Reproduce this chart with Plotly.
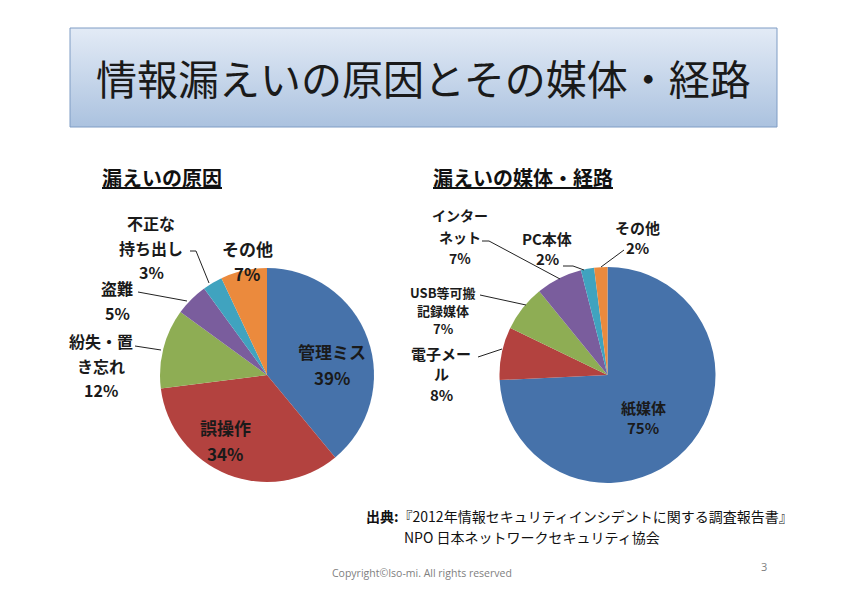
import plotly.graph_objects as go

# ---------------- data ----------------
cause_labels = ['管理ミス', '誤操作', '紛失・置き忘れ', '盗難', '不正な持ち出し', 'その他']
cause_display = ['管理ミス', '誤操作', '紛失・置<br>き忘れ', '盗難', '不正な<br>持ち出し', 'その他']
cause_values = [39, 34, 12, 5, 3, 7]

media_labels = ['紙媒体', '電子メール', 'USB等可搬記録媒体', 'インターネット', 'PC本体', 'その他']
media_display = ['紙媒体', '電子メー<br>ル', 'USB等可搬<br>記録媒体', 'インター<br>ネット', 'PC本体', 'その他']
media_values = [75, 8, 7, 7, 2, 2]

title_text = '情報漏えいの原因とその媒体・経路'
sub_titles = ['漏えいの原因', '漏えいの媒体・経路']
source_lines = ['<b>出典:</b>『2012年情報セキュリティインシデントに関する調査報告書』',
                'NPO 日本ネットワークセキュリティ協会']
copyright_text = 'Copyright©Iso-mi. All rights reserved'
page_no = '3'

# ---------------- styles / layout ----------------
PW, PH = 847, 600          # page size
OFF = 8                    # default body margin of the page
W, H = PW - OFF, PH - OFF  # figure size
FONT = 'Noto Sans CJK JP'
slice_colors = ['#4672AA', '#B3423F', '#8EAD54', '#7A5D9D', '#40A3BF', '#EB8A3D']

# label placement: (x center, first line y, line gap, font size) in page pixels
cause_pos = [(332, 351, 26, 17), (225, 427, 26, 17), (101, 341, 24.5, 16),
             (117, 288, 25, 16), (151, 223, 24.5, 16), (247, 248, 25, 17)]
media_pos = [(643, 407, 20, 15), (441, 353, 20.5, 15), (443, 292, 18.3, 13),
             (460, 215, 21.5, 14), (547, 238, 20, 15), (637, 227, 20, 15)]

cause_leaders = [None, None, [(135, 346), (161, 350)], [(138, 292), (187, 301)],
                 [(190, 251), (196, 251), (209, 283)], None]
media_leaders = [None, [(478, 357), (502, 349)], [(480, 295), (526, 305)],
                 [(482, 241), (489, 241), (560, 279)],
                 [(563, 266), (573, 266), (584, 270)],
                 [(624, 250), (601, 267)]]


def px_dom(x0, x1, y0, y1):
    return dict(x=[(x0 - OFF) / W, (x1 - OFF) / W],
                y=[1 - (y1 - OFF) / H, 1 - (y0 - OFF) / H])


fig = go.Figure()

# title box with vertical gradient
fig.add_trace(go.Scatter(
    x=[70, 777, 777, 70, 70], y=[28, 28, 127, 127, 28],
    mode='lines', fill='toself',
    fillgradient=dict(type='vertical', colorscale=[[0, '#e3ebf6'], [1, '#abc2df']],
                      start=28, stop=127),
    line=dict(color='#7f9cc4', width=1),
    hoverinfo='skip', showlegend=False))

fig.add_trace(go.Pie(
    labels=cause_labels, values=cause_values, sort=False, direction='clockwise',
    rotation=0, textinfo='none', marker=dict(colors=slice_colors, line=dict(width=0)),
    domain=px_dom(160, 374, 268, 482), showlegend=False, hoverinfo='label+value'))

fig.add_trace(go.Pie(
    labels=media_labels, values=media_values, sort=False, direction='clockwise',
    rotation=0, textinfo='none', marker=dict(colors=slice_colors, line=dict(width=0)),
    domain=px_dom(499.5, 715.5, 267, 483), showlegend=False, hoverinfo='label+value'))

annotations = []
shapes = []


def add_label(pos, disp, val):
    x, y0, gap, size = pos
    lines = disp.split('<br>') + [f'{val}%']
    for i, ln in enumerate(lines):
        annotations.append(dict(
            x=x, y=y0 + i * gap, xref='x', yref='y', text=f'<b>{ln}</b>',
            showarrow=False, xanchor='center', yanchor='middle',
            font=dict(family=FONT, size=size, color='#1a1a1a')))


for p, d, v in zip(cause_pos, cause_display, cause_values):
    add_label(p, d, v)
for p, d, v in zip(media_pos, media_display, media_values):
    add_label(p, d, v)

for pts in cause_leaders + media_leaders:
    if pts:
        path = 'M ' + ' L '.join(f'{a},{b}' for a, b in pts)
        shapes.append(dict(type='path', path=path, xref='x', yref='y',
                           line=dict(color='#222222', width=1)))

# main title
annotations.append(dict(x=423, y=77, xref='x', yref='y', text=title_text, showarrow=False,
                        xanchor='center', yanchor='middle',
                        font=dict(family=FONT, size=41, color='#1a1a1a')))
# section titles
for (sx, sy), st in zip([(162, 177), (523, 177)], sub_titles):
    annotations.append(dict(x=sx, y=sy, xref='x', yref='y', text=f'<b>{st}</b>',
                            showarrow=False, xanchor='center', yanchor='middle',
                            font=dict(family=FONT, size=20, color='#111111',
                                      lineposition='under')))
# source
for (sx, sy), ln in zip([(365, 516), (403, 537)], source_lines):
    annotations.append(dict(x=sx, y=sy, xref='x', yref='y', text=ln, showarrow=False,
                            xanchor='left', yanchor='middle', borderpad=0,
                            font=dict(family=FONT, size=14, color='#111111')))
# footer
annotations.append(dict(x=421.5, y=573, xref='x', yref='y', text=copyright_text, showarrow=False,
                        xanchor='center', yanchor='middle',
                        font=dict(family='Open Sans', size=10.5, color='#808080')))
annotations.append(dict(x=764, y=566, xref='x', yref='y', text=page_no, showarrow=False,
                        xanchor='center', yanchor='middle',
                        font=dict(family='Open Sans', size=11, color='#808080')))

fig.update_layout(
    width=W, height=H, margin=dict(l=0, r=0, t=0, b=0),
    paper_bgcolor='white', plot_bgcolor='white', showlegend=False,
    xaxis=dict(range=[OFF, PW], visible=False, domain=[0, 1], fixedrange=True),
    yaxis=dict(range=[PH, OFF], visible=False, domain=[0, 1], fixedrange=True),
    annotations=annotations, shapes=shapes)

fig.write_html('out.html')
